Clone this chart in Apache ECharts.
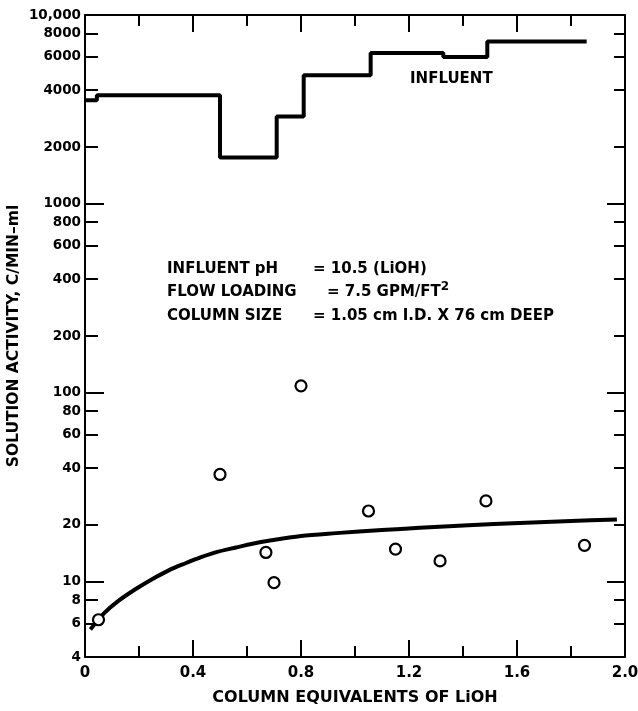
<!DOCTYPE html>
<html><head><meta charset="utf-8">
<script src="https://cdn.jsdelivr.net/npm/echarts@6/dist/echarts.min.js"></script>
<style>html,body{margin:0;padding:0;background:#fff}#c{width:638px;height:711px}</style>
</head><body><div id="c"></div>
<script>
// ---- data ----
const xTickValues = [0, 0.4, 0.8, 1.2, 1.6, 2.0];
const xTickLabels = ['0', '0.4', '0.8', '1.2', '1.6', '2.0'];
const yLabelValues = [4, 6, 8, 10, 20, 40, 60, 80, 100, 200, 400, 600, 800, 1000, 2000, 4000, 6000, 8000, 10000];
const yLabelTexts = ['4', '6', '8', '10', '20', '40', '60', '80', '100', '200', '400', '600', '800', '1000', '2000', '4000', '6000', '8000', '10,000'];
const yMajorTicks = [10, 100, 1000];
const yMinorTicks = [6, 8, 20, 40, 60, 80, 200, 400, 600, 800, 2000, 4000, 6000, 8000];

// influent activity (step line), x = start of each step
const influentX = [0, 0.044, 0.5, 0.71, 0.81, 1.058, 1.327, 1.49, 1.858];
const influentY = [3540, 3760, 1760, 2900, 4800, 6300, 6000, 7250, 7250];

// fitted effluent curve
const curveX = [0.02, 0.07, 0.12, 0.185, 0.25, 0.31, 0.37, 0.43, 0.49, 0.56, 0.62, 0.68, 0.8, 0.93, 1.1, 1.24, 1.42, 1.61, 1.8, 1.97];
const curveY = [5.6, 6.8, 7.85, 9.1, 10.35, 11.5, 12.5, 13.5, 14.4, 15.2, 15.9, 16.5, 17.5, 18.1, 18.8, 19.3, 19.9, 20.5, 21.0, 21.4];

// measured effluent points
const pointsX = [0.05, 0.5, 0.67, 0.70, 0.80, 1.05, 1.15, 1.315, 1.485, 1.85];
const pointsY = [6.3, 37, 14.3, 9.9, 109, 23.7, 14.9, 12.9, 26.8, 15.6];

const zip = (a, b) => a.map((v, i) => [v, b[i]]);
const FONT = 'DejaVu Sans';
const BLK = '#000';
const TF = 'bold 15px "DejaVu Sans"';

function xAxisDef(pos, showLabel) {
  return {
    type: 'value', position: pos, min: 0, max: 2, interval: 0.4,
    axisLine: { show: true, onZero: false, lineStyle: { color: BLK, width: 2 } },
    axisTick: { show: true, inside: true, length: 17, lineStyle: { color: BLK, width: 2 } },
    minorTick: { show: true, splitNumber: 2, length: 11, lineStyle: { color: BLK, width: 2 } },
    splitLine: { show: false }, minorSplitLine: { show: false },
    axisLabel: {
      show: showLabel, color: BLK, fontFamily: FONT, fontSize: 15, fontWeight: 'bold', margin: 9,
      formatter: v => xTickLabels[Math.round(v / 0.4)]
    },
    name: showLabel ? 'COLUMN EQUIVALENTS OF LiOH' : '',
    nameLocation: 'middle', nameGap: 33, nameMoveOverlap: false,
    nameTextStyle: { color: BLK, fontFamily: FONT, fontSize: 16, fontWeight: 'bold' }
  };
}
function yAxisDef(pos, ticks, len, showLine, showLabel) {
  return {
    type: 'log', logBase: 10, position: pos, min: 4, max: 10000,
    axisLine: { show: showLine, lineStyle: { color: BLK, width: 2 } },
    axisTick: { show: true, inside: true, length: len, customValues: ticks, lineStyle: { color: BLK, width: 2 } },
    splitLine: { show: false },
    axisLabel: {
      show: showLabel, color: BLK, fontFamily: FONT, fontSize: 13.5, fontWeight: 'bold', margin: 4,
      customValues: yLabelValues,
      formatter: v => yLabelTexts[yLabelValues.indexOf(Math.round(v))] || ''
    },
    name: showLabel ? 'SOLUTION ACTIVITY, C/MIN\u2013ml' : '',
    nameLocation: 'middle', nameGap: 63, nameMoveOverlap: false,
    nameTextStyle: { color: BLK, fontFamily: FONT, fontSize: 15.5, fontWeight: 'bold' }
  };
}

const chart = echarts.init(document.getElementById('c'), null, { renderer: 'canvas' });
chart.setOption({
  backgroundColor: '#fff',
  animation: false,
  grid: { left: 85, right: 13, top: 15, bottom: 54, containLabel: false, outerBoundsMode: 'none' },
  xAxis: [xAxisDef('bottom', true), xAxisDef('top', false)],
  yAxis: [
    yAxisDef('left', yMinorTicks, 13, true, true),
    yAxisDef('left', yMajorTicks, 19, false, false),
    yAxisDef('right', yMinorTicks, 11, true, false),
    yAxisDef('right', yMajorTicks, 18, false, false)
  ],
  series: [
    {
      type: 'line', name: 'Influent', data: zip(influentX, influentY), step: 'end',
      showSymbol: false, symbol: 'none', lineStyle: { color: BLK, width: 4 }, z: 3
    },
    {
      type: 'line', name: 'Fit', data: zip(curveX, curveY), smooth: 0.3,
      showSymbol: false, symbol: 'none', lineStyle: { color: BLK, width: 4 }, z: 3
    },
    {
      type: 'scatter', name: 'Effluent', data: zip(pointsX, pointsY), symbol: 'circle', symbolSize: 11,
      itemStyle: { color: '#fff', opacity: 1, borderColor: BLK, borderWidth: 2.2 }, z: 5
    }
  ],
  graphic: [
    { type: 'text', left: 410, top: 72, style: { text: 'INFLUENT', font: TF, fill: BLK } },
    { type: 'text', left: 167, top: 262, style: { text: 'INFLUENT pH', font: TF, fill: BLK } },
    { type: 'text', left: 313, top: 262, style: { text: '= 10.5 (LiOH)', font: TF, fill: BLK } },
    { type: 'text', left: 167, top: 285, style: { text: 'FLOW LOADING', font: TF, fill: BLK } },
    { type: 'text', left: 327, top: 281, style: {
        text: '{a|= 7.5 GPM/FT}{s|2}',
        rich: { a: { font: TF, fill: BLK, verticalAlign: 'bottom', padding: [4, 0, 0, 0] },
                s: { font: 'bold 12px "DejaVu Sans"', fill: BLK, verticalAlign: 'top', padding: [0, 0, 6, 0] } } } },
    { type: 'text', left: 167, top: 309, style: { text: 'COLUMN SIZE', font: TF, fill: BLK } },
    { type: 'text', left: 313, top: 309, style: { text: '= 1.05 cm I.D. X 76 cm DEEP', font: TF, fill: BLK } }
  ]
});
</script></body></html>
